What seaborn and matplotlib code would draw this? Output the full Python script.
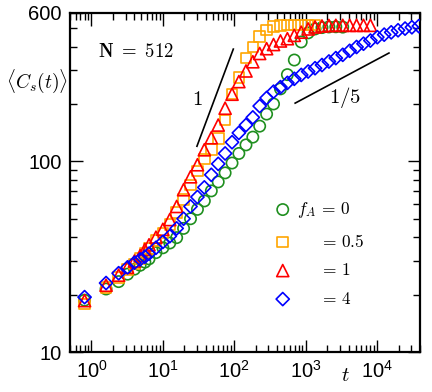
import numpy as np
import pandas as pd
import seaborn as sns
import matplotlib.pyplot as plt
from matplotlib.ticker import NullFormatter, FixedLocator, FixedFormatter

# time grid
t_all = [0.8, 1.6, 2.4, 3.2, 4.0, 4.8, 5.6, 6.4, 8.0, 10, 12.5, 15.6, 19.5, 24.4,
         30.5, 38.1, 47.7, 59.6, 74.5, 93.1, 116, 146, 182, 227, 284, 355, 444,
         555, 694, 867, 1084, 1355, 1694, 2118, 2647, 3309, 4136, 5170, 6463,
         8078, 10100, 12600, 15800, 19700, 24700, 30800, 38500]

# <C_s(t)> for each f_A
c_f0 = [18.7, 21.4, 23.4, 25.6, 27.2, 28.5, 29.6, 30.8, 33.2, 35.2, 37.3, 39.8,
        44.5, 50, 56, 62, 70, 78, 87, 98, 110, 122, 134, 153, 177, 200, 240,
        285, 340, 423, 472, 495, 503, 507, 508, 506]
c_f05 = [17.9, 21.8, 24.6, 27, 29, 31, 33, 35, 38.5, 42, 46.5, 54, 63, 75, 89,
         103, 115, 132, 165, 225, 275, 348, 398, 452, 488, 508, 516, 518, 519,
         519, 518, 518]
c_f1 = [18.6, 22.4, 25.3, 27.8, 30, 32, 34.5, 36.5, 40, 44, 49.5, 58, 71, 83,
        96, 115, 133, 155, 190, 225, 262, 298, 333, 368, 390, 410, 428, 440,
        458, 476, 495, 507, 513, 516, 517, 517, 517, 517, 517, 517]
c_f4 = [19.4, 23.0, 25.9, 27.8, 29.4, 30.6, 31.6, 32.8, 35.2, 37.8, 40.5, 44.5,
        50, 58, 65, 73, 85, 97, 110, 126, 141, 155, 170, 195, 215, 232, 245,
        258, 271, 284, 296, 308, 320, 334, 348, 362, 380, 398, 414, 430, 448,
        462, 475, 487, 497, 505, 512]

series = [(r"$f_A\,=\,0$", c_f0, "o", "#1f8f1f", 66),
          (r"$\quad\;\,=\,0.5$", c_f05, "s", "#ffa500", 58),
          (r"$\quad\;\,=\,1$", c_f1, "^", "#ff0000", 76),
          (r"$\quad\;\,=\,4$", c_f4, "D", "#0000ff", 45)]

# guide lines
slope1_t = [30, 97]
slope1_c = [120, 388]
slope5_t = [713, 14700]
slope5_c = [202, 370]

plt.rcParams['font.family'] = ['Liberation Sans', 'DejaVu Sans']
fig = plt.figure(figsize=(4.32, 3.92), dpi=100)
ax = fig.add_axes([70/432, 1-352/392, 350/432, 339/392])

for i, (lab, vals, mk, col, sz) in enumerate(series):
    df = pd.DataFrame({"t": t_all[:len(vals)], "C": vals})
    sns.scatterplot(data=df, x="t", y="C", marker=mk, s=sz, facecolors="none",
                    edgecolor=col, linewidth=1.2, label=lab, ax=ax, zorder=3+i)

ax.plot(slope1_t, slope1_c, color="black", lw=1.2)
ax.plot(slope5_t, slope5_c, color="black", lw=1.2)

ax.set_xscale("log")
ax.set_yscale("log")
ax.set_xlim(0.5, 4e4)
ax.set_ylim(10, 600)

ax.yaxis.set_major_locator(FixedLocator([10, 100, 600]))
ax.yaxis.set_major_formatter(FixedFormatter(["10", "100", "600"]))
ax.yaxis.set_minor_locator(FixedLocator([20, 30, 40, 50, 60, 70, 80, 90, 200, 300, 400, 500]))
ax.yaxis.set_minor_formatter(NullFormatter())
ax.xaxis.set_minor_formatter(NullFormatter())

ax.tick_params(which="both", direction="in", top=True, right=True, width=1.0)
ax.tick_params(which="major", length=9, labelsize=14.5, pad=6)
ax.tick_params(which="minor", length=5)
for sp in ax.spines.values():
    sp.set_linewidth(1.6)

ax.set_xlabel("")
ax.set_ylabel("")
ax.text(-0.094, 0.80, r"$\langle C_s(t)\rangle$", transform=ax.transAxes,
        ha="center", va="center", fontsize=14, math_fontfamily="cm")
ax.text(0.786, -0.07, r"$t$", transform=ax.transAxes, ha="center", va="center",
        fontsize=15, math_fontfamily="cm")
ax.text(0.189, 0.885, r"$\mathbf{N\ =\ 512}$", transform=ax.transAxes,
        ha="center", va="center", fontsize=13.5, math_fontfamily="cm")
ax.text(30, 212, r"$1$", ha="center", va="center", fontsize=15, math_fontfamily="cm")
ax.text(3570, 217, r"$1/5$", ha="center", va="center", fontsize=15, math_fontfamily="cm")

ax.legend(loc="upper left", bbox_to_anchor=(0.583, 0.448), frameon=False,
          handlelength=1.0, handletextpad=0.35, labelspacing=0.72,
          borderaxespad=0, borderpad=0,
          prop={"size": 12.5, "math_fontfamily": "cm"})

fig.savefig("out.png", dpi=100)
